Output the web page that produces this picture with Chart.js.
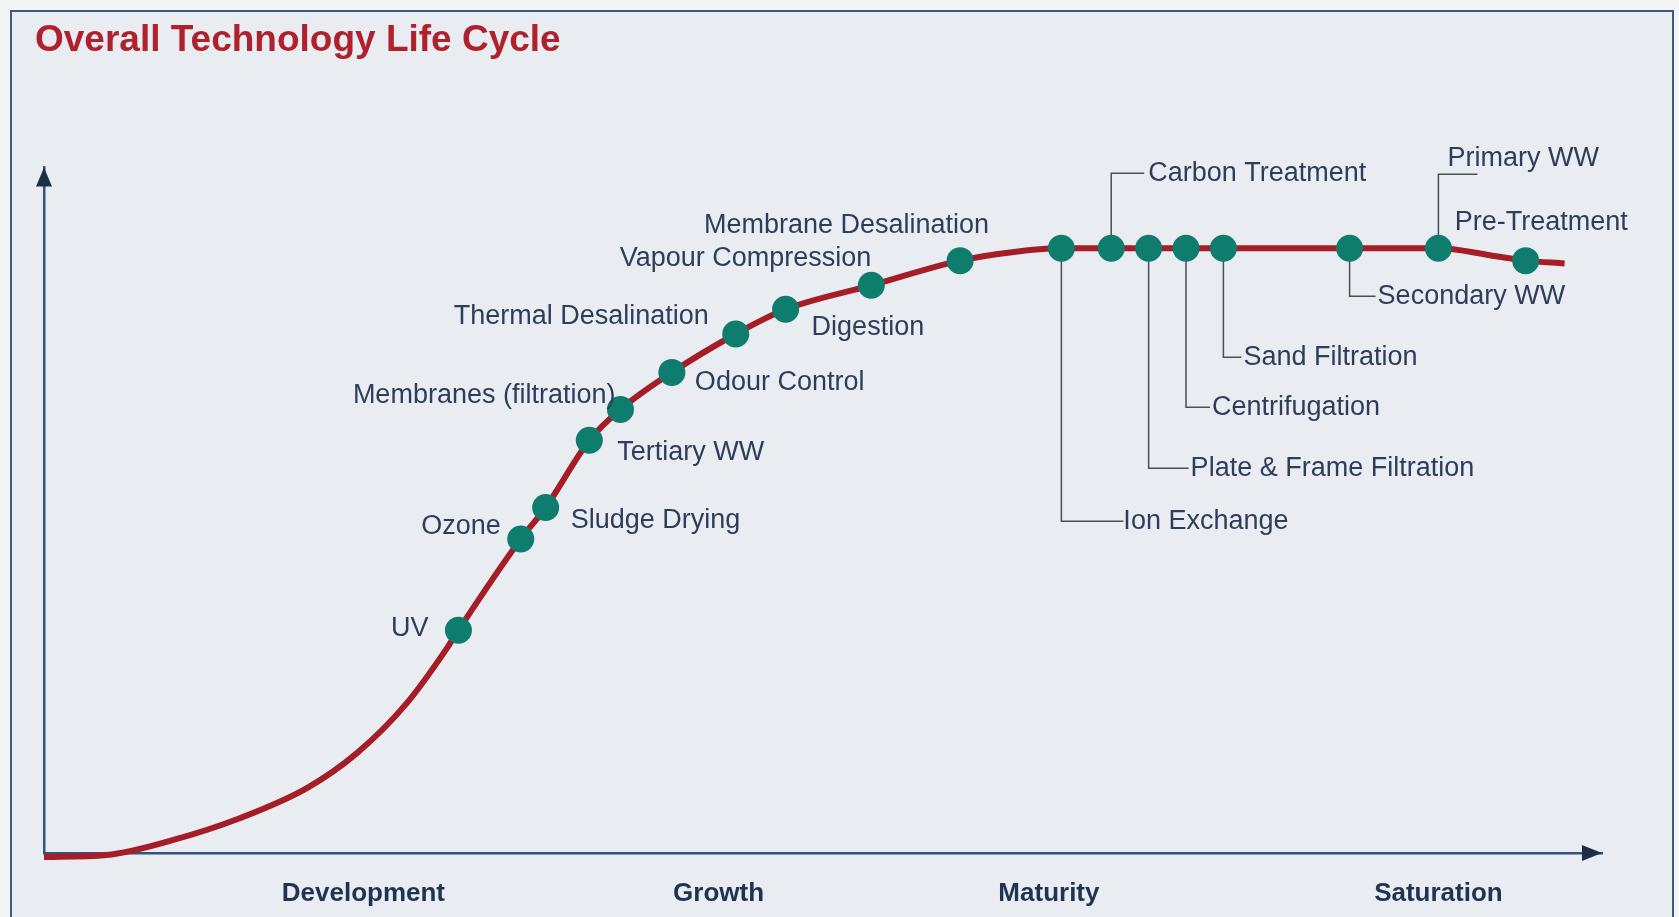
<!DOCTYPE html>
<html>
<head>
<meta charset="utf-8">
<title>Overall Technology Life Cycle</title>
<script src="https://cdn.jsdelivr.net/npm/chart.js@4.4.1/dist/chart.umd.min.js"></script>
<style>
  html, body { margin: 0; padding: 0; overflow: hidden; background: #f3f4f6; }
  #frame {
    position: absolute; left: 10px; top: 10px; width: 1660px; height: 960px;
    border: 2px solid #3b5b84; background: #e9edf2;
  }
  #wrap { position: absolute; left: 0; top: 0; width: 1679px; height: 917px; }
</style>
</head>
<body>
<div id="frame"></div>
<div id="wrap"><canvas id="lifeCycle"></canvas></div>
<script>
// technologies placed on the curve (x = time, y = maturity, both 0..100)
const technologies = [
  'UV', 'Ozone', 'Sludge Drying', 'Tertiary WW', 'Membranes (filtration)',
  'Odour Control', 'Thermal Desalination', 'Digestion', 'Vapour Compression',
  'Membrane Desalination', 'Ion Exchange', 'Carbon Treatment',
  'Plate & Frame Filtration', 'Centrifugation', 'Sand Filtration',
  'Secondary WW', 'Primary WW', 'Pre-Treatment'
];
const stageX = [26.6, 30.6, 32.2, 35.0, 37.0, 40.3, 44.4, 47.6, 53.1, 58.8, 65.3, 68.5, 70.9, 73.3, 75.7, 83.8, 89.5, 95.1];
const stageY = [32.5, 45.8, 50.4, 60.2, 64.7, 70.1, 75.7, 79.3, 82.8, 86.4, 88.2, 88.2, 88.2, 88.2, 88.2, 88.2, 88.2, 86.4];

// the S-curve itself
const curveX = [0, 4.0, 8.3, 12.6, 16.9, 20.1, 23.3, 25.9, 26.6, 30.6, 32.2, 35.0, 37.0, 40.3, 44.4, 47.6, 53.1, 58.8, 62.0, 65.3, 75.7, 83.8, 89.5, 92.8, 95.1, 97.6];
const curveY = [-0.6, -0.3, 1.9, 5.1, 9.5, 14.6, 21.9, 30.0, 32.5, 45.8, 50.4, 60.2, 64.7, 70.1, 75.7, 79.3, 82.8, 86.4, 87.6, 88.2, 88.2, 88.2, 88.2, 87.2, 86.4, 86.0];

// phases along the time axis
const phaseLabels = ['Development', 'Growth', 'Maturity', 'Saturation'];
const phaseX = [20.5, 43.3, 64.5, 89.5];

// label placement, pixels relative to the dot (same order as technologies)
const labelLayout = [
  { align: 'right', dx: -30, dy: -2 },
  { align: 'right', dx: -20, dy: -12 },
  { align: 'left', dx: 25, dy: 13 },
  { align: 'left', dx: 28, dy: 12 },
  { align: 'right', dx: -5, dy: -14 },
  { align: 'left', dx: 23, dy: 10 },
  { align: 'right', dx: -27, dy: -17 },
  { align: 'left', dx: 26, dy: 18 },
  { align: 'right', dx: 0, dy: -27 },
  { align: 'right', dx: 29, dy: -35 },
  { align: 'left', dx: 62, dy: 273, leader: [62, 273] },
  { align: 'left', dx: 37, dy: -75, leader: [33, -75] },
  { align: 'left', dx: 42, dy: 220, leader: [40, 220] },
  { align: 'left', dx: 26, dy: 159, leader: [24, 159] },
  { align: 'left', dx: 20, dy: 109, leader: [18, 109] },
  { align: 'left', dx: 28, dy: 48, leader: [26, 48] },
  { align: 'left', dx: 9, dy: -90, leader: [39, -74] },
  { align: 'left', dx: -71, dy: -38 }
];

const axisColor = '#34557d';
const textColor = '#2e3d5a';
const labelFont = '27px "Liberation Sans", Arial, Helvetica, sans-serif';

const lifeCycleLabels = {
  id: 'lifeCycleLabels',
  beforeDatasetsDraw(chart) {
    const ctx = chart.ctx;
    const xs = chart.scales.x, ys = chart.scales.y;
    ctx.save();
    ctx.strokeStyle = '#4a4f57';
    ctx.lineWidth = 1.5;
    for (let i = 0; i < technologies.length; i++) {
      const lay = labelLayout[i];
      if (!lay.leader) continue;
      const px = xs.getPixelForValue(stageX[i]);
      const py = ys.getPixelForValue(stageY[i]);
      ctx.beginPath();
      ctx.moveTo(px, py);
      ctx.lineTo(px, py + lay.leader[1]);
      ctx.lineTo(px + lay.leader[0], py + lay.leader[1]);
      ctx.stroke();
    }
    ctx.restore();
  },
  afterDatasetsDraw(chart) {
    const ctx = chart.ctx;
    const xs = chart.scales.x, ys = chart.scales.y;
    const area = chart.chartArea;
    ctx.save();
    // arrow heads on both axes
    ctx.fillStyle = '#1d2f48';
    ctx.beginPath();
    ctx.moveTo(area.left, area.top);
    ctx.lineTo(area.left - 8, area.top + 19);
    ctx.lineTo(area.left + 8, area.top + 19);
    ctx.closePath();
    ctx.fill();
    ctx.beginPath();
    ctx.moveTo(area.right, area.bottom);
    ctx.lineTo(area.right - 20, area.bottom - 8);
    ctx.lineTo(area.right - 20, area.bottom + 8);
    ctx.closePath();
    ctx.fill();

    ctx.font = labelFont;
    ctx.fillStyle = textColor;
    ctx.textBaseline = 'middle';
    for (let i = 0; i < technologies.length; i++) {
      const lay = labelLayout[i];
      const px = xs.getPixelForValue(stageX[i]);
      const py = ys.getPixelForValue(stageY[i]);
      ctx.textAlign = lay.align;
      ctx.fillText(technologies[i], px + lay.dx, py + lay.dy);
    }
    ctx.restore();
  }
};

new Chart(document.getElementById('lifeCycle'), {
  type: 'scatter',
  data: {
    datasets: [{
      label: 'Technologies',
      data: stageX.map((x, i) => ({ x: x, y: stageY[i] })),
      pointRadius: 13.5,
      pointBackgroundColor: '#0f7d6d',
      pointBorderWidth: 0,
      showLine: false,
      order: 0
    }, {
      label: 'Life cycle',
      data: curveX.map((x, i) => ({ x: x, y: curveY[i] })),
      showLine: true,
      borderColor: '#a51d26',
      borderWidth: 6,
      pointRadius: 0,
      cubicInterpolationMode: 'monotone',
      clip: false,
      order: 1
    }]
  },
  options: {
    responsive: true,
    maintainAspectRatio: false,
    animation: false,
    layout: { padding: { left: 35, right: 77, top: 0, bottom: 0 } },
    plugins: {
      legend: { display: false },
      tooltip: { enabled: false },
      title: {
        display: true,
        text: 'Overall Technology Life Cycle',
        align: 'start',
        color: '#b0212e',
        font: { family: '"Liberation Sans", Arial, Helvetica, sans-serif', size: 37, weight: 'bold' },
        padding: { top: 19, bottom: 104 }
      }
    },
    scales: {
      x: {
        type: 'linear', min: 0, max: 100,
        grid: { display: false, drawTicks: false },
        border: { display: true, color: axisColor, width: 2.5 },
        afterBuildTicks: (scale) => { scale.ticks = phaseX.map(v => ({ value: v })); },
        afterFit: (scale) => { scale.height = 64; },
        ticks: {
          autoSkip: false, maxRotation: 0, padding: 25,
          color: '#1f3352',
          font: { family: '"Liberation Sans", Arial, Helvetica, sans-serif', size: 26, weight: 'bold' },
          callback: (v) => phaseLabels[phaseX.indexOf(v)]
        }
      },
      y: {
        type: 'linear', min: 0, max: 100,
        grid: { display: false, drawTicks: false },
        border: { display: true, color: axisColor, width: 2.5 },
        ticks: { display: false },
        afterFit: (scale) => { scale.width = 9; }
      }
    }
  },
  plugins: [lifeCycleLabels]
});
</script>
</body>
</html>
